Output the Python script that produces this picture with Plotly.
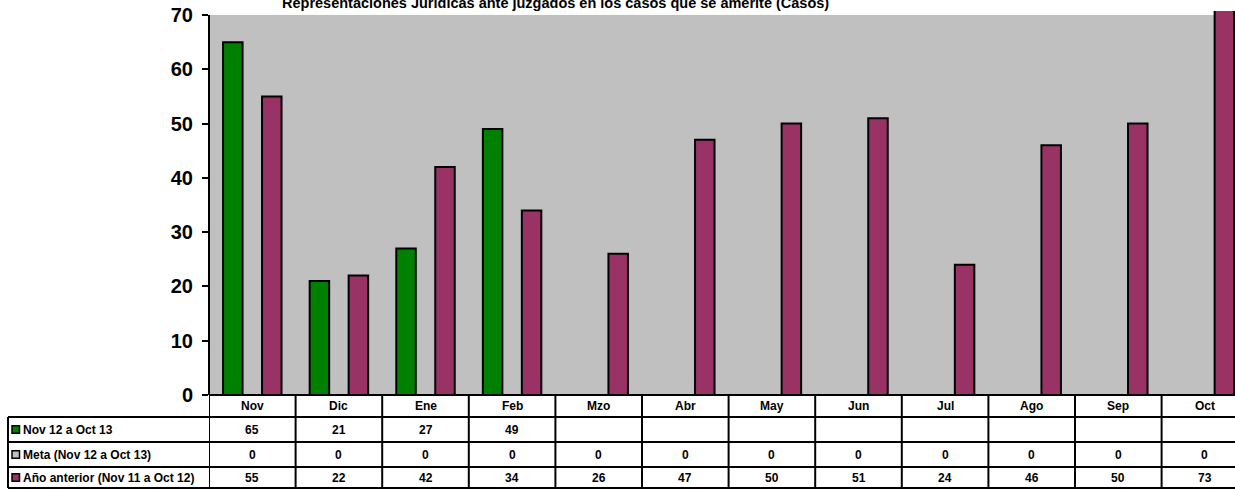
import plotly.graph_objects as go

# ---- data ----
months = ["Nov", "Dic", "Ene", "Feb", "Mzo", "Abr", "May", "Jun", "Jul", "Ago", "Sep", "Oct"]
actual = [65, 21, 27, 49, None, None, None, None, None, None, None, None]
meta = [0, 0, 0, 0, 0, 0, 0, 0, 0, 0, 0, 0]
previous = [55, 22, 42, 34, 26, 47, 50, 51, 24, 46, 50, 73]
series_names = ["Nov 12 a Oct 13", "Meta (Nov 12 a Oct 13)", "Año anterior (Nov 11 a Oct 12)"]
title_text = "Representaciones Jurídicas ante juzgados en los casos que se amerite (Casos)"
y_ticks = [0, 10, 20, 30, 40, 50, 60, 70]

# ---- style ----
colors = ["#008000", "#C0C0C0", "#993366"]
FONT = "Liberation Sans, Arial, sans-serif"
W, H = 1235, 489
L, T, BOT = 209, 11, 395          # plot area pixel bounds
PW, PH = W - L, BOT - T
CAT_W = 86.6                       # pixel width of one category


def px_x(p):
    return (p - L) / PW


def px_y(p):
    return (BOT - p) / PH


fig = go.Figure()
for name, vals, col in zip(series_names, [actual, meta, previous], colors):
    fig.add_trace(go.Bar(
        x=months, y=vals, name=name, marker_color=col,
        marker_line_color="black", marker_line_width=2,
        showlegend=False, hoverinfo="skip",
    ))

ymax = 70 * PH / 380.0
xmax = -0.5 + PW / CAT_W

shapes = []
# gray plot background up to 70
shapes.append(dict(type="rect", xref="paper", yref="y", x0=0, x1=1, y0=0, y1=70,
                   fillcolor="#C0C0C0", line_width=0, layer="below"))
# y axis line
shapes.append(dict(type="line", xref="paper", yref="y", x0=0, x1=0, y0=0, y1=70,
                   line=dict(color="black", width=2)))

# table
rows_px = [395, 417, 442, 467, 488]
line = dict(color="black", width=2)
for i, r in enumerate(rows_px):
    x0 = px_x(209) if i == 0 else px_x(8)
    shapes.append(dict(type="line", xref="paper", yref="paper", x0=x0, x1=1.0,
                       y0=px_y(r), y1=px_y(r), line=line))
for i in range(len(months) + 1):
    shapes.append(dict(type="line", xref="x", yref="paper", x0=i - 0.5, x1=i - 0.5,
                       y0=px_y(395), y1=px_y(488), line=line))
shapes.append(dict(type="line", xref="paper", yref="paper", x0=px_x(8), x1=px_x(8),
                   y0=px_y(417), y1=px_y(488), line=line))

annotations = []
tfont = dict(family=FONT, size=12, color="black")
# header
for m in months:
    annotations.append(dict(x=m, xref="x", y=px_y((395 + 417) / 2), yref="paper",
                            text="<b>%s</b>" % m, showarrow=False, font=tfont,
                            xanchor="center", yanchor="middle"))
# rows
for k, (name, vals, col) in enumerate(zip(series_names, [actual, meta, previous], colors)):
    top, bot = rows_px[k + 1], rows_px[k + 2]
    yc = px_y((top + bot) / 2)
    shapes.append(dict(type="rect", xref="paper", yref="paper",
                       x0=px_x(12), x1=px_x(19.5),
                       y0=yc - 3.8 / PH, y1=yc + 3.8 / PH,
                       fillcolor=col, line=dict(color="black", width=1.5)))
    annotations.append(dict(x=px_x(21), xref="paper", y=yc, yref="paper",
                            text="<b>%s</b>" % name, showarrow=False, font=tfont,
                            xanchor="left", yanchor="middle"))
    for m, v in zip(months, vals):
        if v is None:
            continue
        annotations.append(dict(x=m, xref="x", y=yc, yref="paper",
                                text="<b>%d</b>" % v, showarrow=False, font=tfont,
                                xanchor="center", yanchor="middle"))

# title
annotations.append(dict(x=(555 - L) / PW, xref="paper", y=px_y(13), yref="paper",
                        text="<b>%s</b>" % title_text, showarrow=False,
                        font=dict(family=FONT, size=14.5, color="black"),
                        xanchor="center", yanchor="bottom"))

fig.update_layout(
    width=W, height=H,
    margin=dict(l=L, r=0, t=T, b=H - BOT, pad=0),
    paper_bgcolor="white", plot_bgcolor="white",
    barmode="group", bargap=0.325, bargroupgap=0,
    shapes=shapes, annotations=annotations,
    xaxis=dict(type="category", range=[-0.5, xmax], showticklabels=False,
               showgrid=False, zeroline=False, showline=False, ticks=""),
    yaxis=dict(range=[0, ymax], tickvals=y_ticks, ticktext=["<b>%d</b>" % t for t in y_ticks],
               tickfont=dict(family=FONT, size=20, color="black"),
               ticks="outside", ticklen=6, tickwidth=2, tickcolor="black",
               ticklabelstandoff=5,
               showgrid=False, zeroline=False, showline=False),
)

fig.write_html("out.html", config={"displayModeBar": False},
               post_script="document.body.style.margin='0px';document.body.style.overflow='hidden';")
